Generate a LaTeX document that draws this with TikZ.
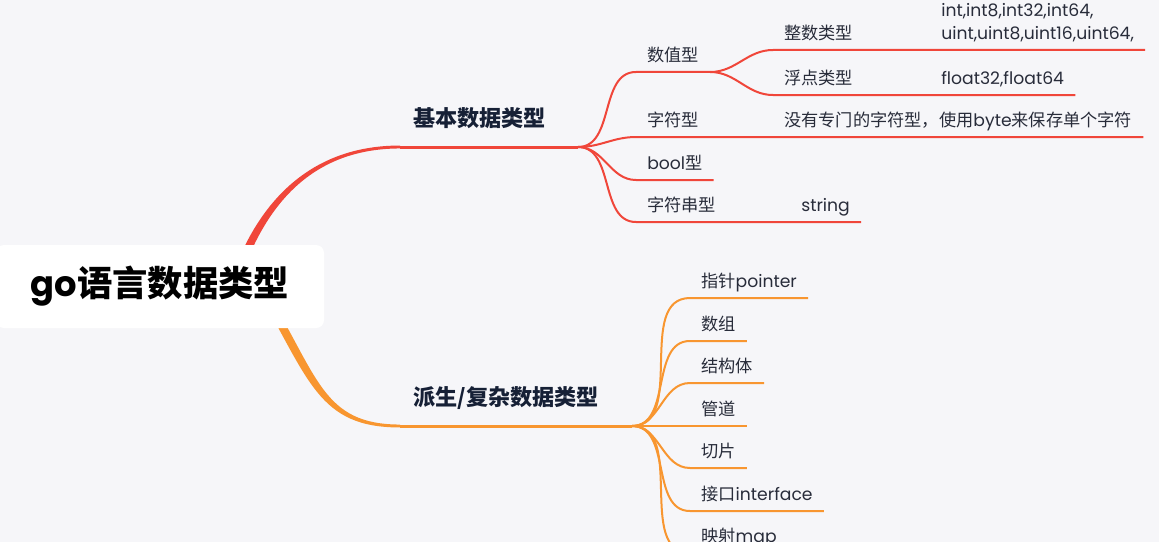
\documentclass[tikz,border=0pt]{standalone}
\usepackage{fontspec}
\setmainfont{Poppins}
\newfontfamily\cjk{Noto Sans CJK SC}
\definecolor{bgc}{RGB}{246,246,249}
\definecolor{redl}{RGB}{240,70,58}
\definecolor{orgl}{RGB}{248,150,48}
\definecolor{inkc}{RGB}{40,44,58}
\definecolor{navy}{RGB}{22,32,54}
\pgfdeclarelayer{back}
\pgfdeclarelayer{links}
\pgfsetlayers{back,links,main}
\tikzset{
  rootbox/.style={fill=white, rounded corners=6pt, minimum width=246pt, minimum height=62.25pt,
    text=black, font=\bfseries\fontsize{26.5pt}{31pt}\selectfont},
  hub/.style={anchor=south west, inner xsep=9.75pt, inner ysep=15pt, text depth=0pt,
    text=navy, font=\bfseries\fontsize{16.6pt}{20pt}\selectfont},
  leaf/.style={anchor=south west, inner xsep=8.25pt, inner ysep=7.5pt, text depth=0pt,
    text=inkc, font=\fontsize{12.9pt}{17.25pt}\selectfont},
  redlink/.style={draw=redl, line width=1.5pt},
  orglink/.style={draw=orgl, line width=1.5pt}
}
\begin{document}
\begin{tikzpicture}[x=0.75pt,y=-0.75pt]
  \begin{pgfonlayer}{back}
    \fill[bgc] (0,0) rectangle (1159,542);
  \end{pgfonlayer}
  \useasboundingbox (0,0) rectangle (1159,542);
  \node[rootbox] (root) at (160,286.5) {go{\cjk 语言数据类型}};
  % basic types
  \node[hub] (basic) at (400,147) {\cjk 基本数据类型};
  \node[leaf] (num) at (636,72) {\cjk 数值型};
  \node[leaf] (int) at (773,50) {\cjk 整数类型};
  \node[leaf, align=left] (intv) at (930,50) {int,int8,int32,int64,\\uint,uint8,uint16,uint64,};
  \node[leaf] (flt) at (773,95) {\cjk 浮点类型};
  \node[leaf] (fltv) at (930,95) {float32,float64};
  \node[leaf] (chr) at (636,137) {\cjk 字符型};
  \node[leaf] (chrv) at (773,137) {{\cjk 没有专门的字符型，使用}byte{\cjk 来保存单个字符}};
  \node[leaf] (bool) at (636,180) {bool{\cjk 型}};
  \node[leaf] (str) at (636,222) {\cjk 字符串型};
  \node[leaf] (strv) at (790,222) {string};
  % derived types
  \node[hub] (derv) at (400,426) {\cjk 派生/复杂数据类型};
  \node[leaf] (ptr) at (690,298) {{\cjk 指针}pointer};
  \node[leaf] (arr) at (690,341) {\cjk 数组};
  \node[leaf] (stc) at (690,383) {\cjk 结构体};
  \node[leaf] (pip) at (690,426) {\cjk 管道};
  \node[leaf] (slc) at (690,468) {\cjk 切片};
  \node[leaf] (itf) at (690,511) {{\cjk 接口}interface};
  \node[leaf] (map) at (690,553) {{\cjk 映射}map};
  \coordinate (f1) at (578,147);
  \coordinate (f3) at (632,426);
  \begin{pgfonlayer}{links}
    \fill[redl] ([xshift=51pt,yshift=-1pt]root.center) .. controls (258,194) and (317,145.5) .. ([yshift=1.1pt]basic.south west)
      -- ([yshift=-1.1pt]basic.south west) .. controls (319,148.5) and (266,196) .. ([xshift=58pt,yshift=-1pt]root.center) -- cycle;
    \fill[orgl] ([xshift=72pt,yshift=-1pt]root.center) .. controls (309.5,380) and (318,427.5) .. ([yshift=-1.1pt]derv.south west)
      -- ([yshift=1.1pt]derv.south west) .. controls (322,424.5) and (318.5,376) .. ([xshift=78.5pt,yshift=-1pt]root.center) -- cycle;
    \draw[redl, line width=2.25pt] (basic.south west) -- (basic.south east) -- (f1);
    \draw[orgl, line width=2.25pt] (derv.south west) -- (derv.south east) -- (f3);
    \begin{scope}[redlink]
      \draw (f1) to[out=0,in=180] (num.south west) -- (num.south east);
      \draw (num.south east) to[out=0,in=180] (int.south west) -- (int.south east) -- (intv.south west) -- (intv.south east);
      \draw (num.south east) to[out=0,in=180] (flt.south west) -- (flt.south east) -- (fltv.south west) -- (fltv.south east);
      \draw (f1) to[out=0,in=180] (chr.south west) -- (chr.south east) -- (chrv.south west) -- (chrv.south east);
      \draw (f1) to[out=0,in=180] (bool.south west) -- (bool.south east);
      \draw (f1) to[out=0,in=180] (str.south west) -- (str.south east) -- (strv.south west) -- (strv.south east);
    \end{scope}
    \begin{scope}[orglink]
      \draw (f3) to[out=0,in=180] (ptr.south west) -- (ptr.south east);
      \draw (f3) to[out=0,in=180] (arr.south west) -- (arr.south east);
      \draw (f3) to[out=0,in=180] (stc.south west) -- (stc.south east);
      \draw (f3) -- (pip.south west) -- (pip.south east);
      \draw (f3) to[out=0,in=180] (slc.south west) -- (slc.south east);
      \draw (f3) to[out=0,in=180] (itf.south west) -- (itf.south east);
      \draw (f3) to[out=0,in=180] (map.south west) -- (map.south east);
    \end{scope}
  \end{pgfonlayer}
\end{tikzpicture}
\end{document}
